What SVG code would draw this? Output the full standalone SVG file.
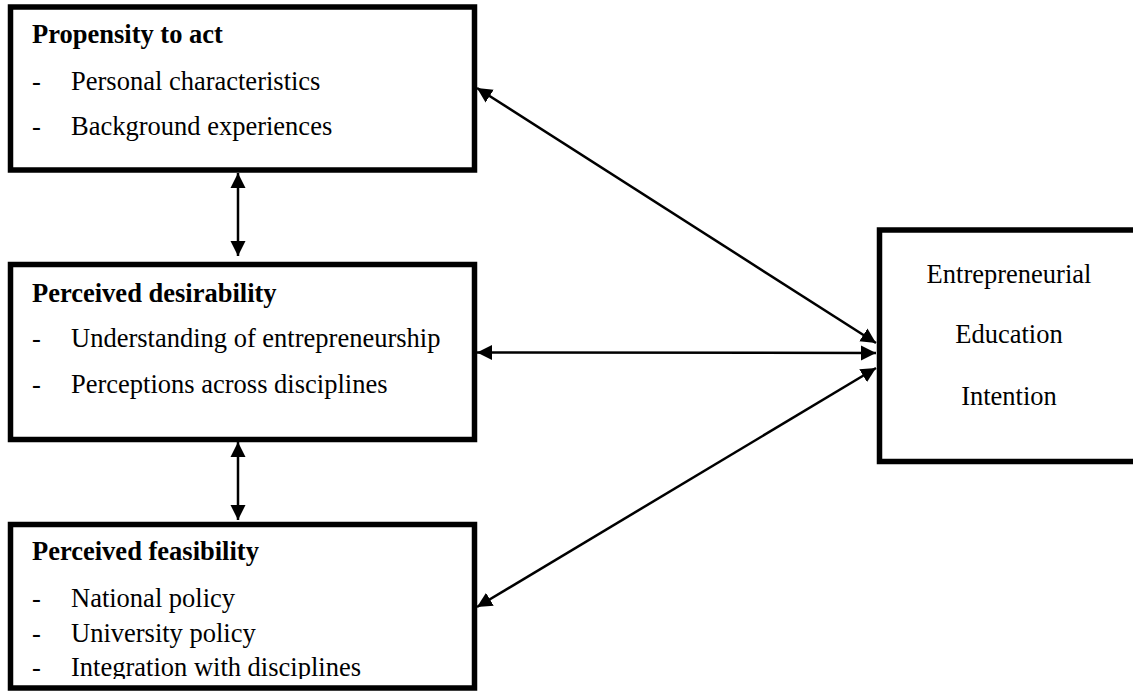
<svg xmlns="http://www.w3.org/2000/svg" width="1133" height="691" viewBox="0 0 1133 691">
<style>
.box{fill:#fff;stroke:#000;stroke-width:5.5}
.t{font-family:"Liberation Serif","Times New Roman",serif;font-size:26.5px;fill:#000}
.b{font-weight:bold}
.c{text-anchor:middle}
.ln{stroke:#000;stroke-width:2.5;fill:none;marker-start:url(#ah);marker-end:url(#ah)}
</style>
<defs>
<marker id="ah" markerUnits="userSpaceOnUse" markerWidth="16" markerHeight="16" viewBox="0 0 16 16" refX="15" refY="8" orient="auto-start-reverse">
<path d="M0,0.5 L15,8 L0,15.5 z" fill="#000"/>
</marker>
<clipPath id="clip3"><rect x="0" y="520" width="480" height="159"/></clipPath>
</defs>
<rect width="1133" height="691" fill="#fff"/>
<g id="node-propensity">
<rect class="box" x="10.5" y="7" width="464" height="163"/>
<text class="t b" x="32" y="43">Propensity to act</text>
<text class="t" x="32" y="90">-</text>
<text class="t" x="71" y="90">Personal characteristics</text>
<text class="t" x="32" y="135">-</text>
<text class="t" x="71" y="135">Background experiences</text>
</g>
<g id="node-desirability">
<rect class="box" x="10.5" y="264.5" width="464" height="175"/>
<text class="t b" x="32" y="301.5">Perceived desirability</text>
<text class="t" x="32" y="347">-</text>
<text class="t" x="71" y="347">Understanding of entrepreneurship</text>
<text class="t" x="32" y="393">-</text>
<text class="t" x="71" y="393">Perceptions across disciplines</text>
</g>
<g id="node-feasibility">
<rect class="box" x="10.5" y="524.5" width="464" height="163.5"/>
<g clip-path="url(#clip3)">
<text class="t b" x="32" y="560">Perceived feasibility</text>
<text class="t" x="32" y="607">-</text>
<text class="t" x="71" y="607">National policy</text>
<text class="t" x="32" y="642">-</text>
<text class="t" x="71" y="642">University policy</text>
<text class="t" x="32" y="676">-</text>
<text class="t" x="71" y="676">Integration with disciplines</text>
</g>
</g>
<g id="node-intention">
<rect class="box" x="879.5" y="230" width="270" height="231.5"/>
<text class="t c" x="1009" y="283">Entrepreneurial</text>
<text class="t c" x="1009" y="343">Education</text>
<text class="t c" x="1009" y="405">Intention</text>
</g>
<g id="connectors">
<line class="ln" x1="238" y1="173" x2="238" y2="256"/>
<line class="ln" x1="238" y1="442" x2="238" y2="520"/>
<line class="ln" x1="477" y1="88" x2="876" y2="343"/>
<line class="ln" x1="477" y1="352.5" x2="876" y2="353"/>
<line class="ln" x1="477" y1="607" x2="876" y2="368"/>
</g>
</svg>
